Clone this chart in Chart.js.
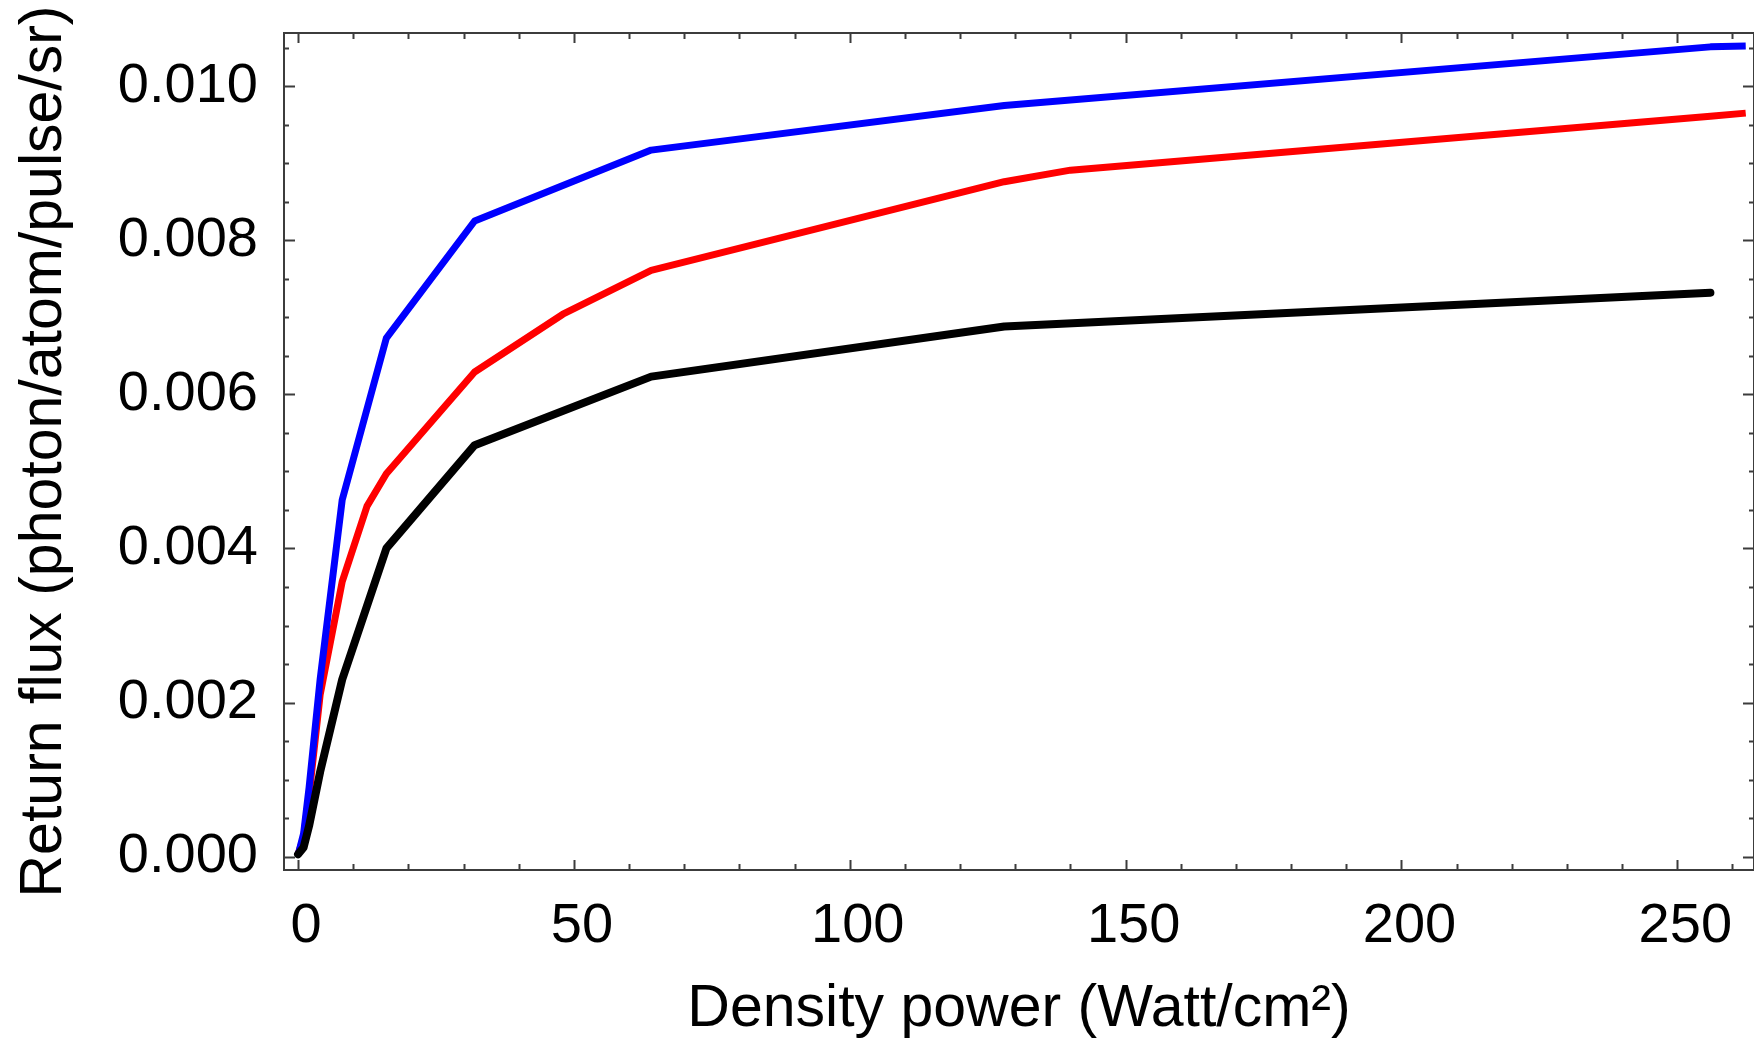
<!DOCTYPE html>
<html>
<head>
<meta charset="utf-8">
<script src="https://cdn.jsdelivr.net/npm/chart.js@4.4.1/dist/chart.umd.min.js"></script>
<style>
  html, body { margin: 0; padding: 0; background: #fff; }
  #wrap { width: 1754px; height: 1042px; }
</style>
</head>
<body>
<div id="wrap"><canvas id="chart" width="1754" height="1042"></canvas></div>
<script>
// values
const blueX  = [0, 1, 2, 4, 8, 16, 32, 64, 128, 256, 262.4];
const blueY  = [0.00002, 0.0003, 0.0009, 0.0023, 0.00463, 0.00673, 0.00825, 0.00917, 0.00975, 0.01051, 0.01052];

const redX   = [0, 1, 2, 4, 8, 12.5, 16, 32, 48, 64, 128, 140, 256, 262.4];
const redY   = [0.00003, 0.00025, 0.0008, 0.0021, 0.00357, 0.00455, 0.00497, 0.00629, 0.00704, 0.00761, 0.00876, 0.00891, 0.00961, 0.00965];

const blackX = [0, 1, 2, 4, 8, 16, 32, 64, 128, 256];
const blackY = [0.00003, 0.00012, 0.0004, 0.0011, 0.0023, 0.0040, 0.00534, 0.00623, 0.00688, 0.00732];

const xTicks = [0, 50, 100, 150, 200, 250];
const yTicks = [0, 0.002, 0.004, 0.006, 0.008, 0.010];
const xMinorStep = 10;
const yMinorStep = 0.0005;

const FONT = '"Liberation Sans", Arial, Helvetica, sans-serif';

const toPoints = (xs, ys) => xs.map((x, i) => ({ x: x, y: ys[i] }));

// Mathematica-like frame with inward ticks on all four sides
const frameTicks = {
  id: 'frameTicks',
  afterDatasetsDraw(chart) {
    const { ctx, chartArea: a, scales: { x, y } } = chart;
    ctx.save();
    ctx.strokeStyle = '#3c3c3c';
    ctx.lineWidth = 2;
    ctx.strokeRect(a.left, a.top, a.right - a.left, a.bottom - a.top);

    ctx.beginPath();
    for (let k = 0; k * xMinorStep <= x.max; k++) {
      const v = k * xMinorStep;
      const px = Math.round(x.getPixelForValue(v)) + 0.5;
      const len = (v % 50 === 0) ? 10 : 6;
      ctx.moveTo(px, a.bottom); ctx.lineTo(px, a.bottom - len);
      ctx.moveTo(px, a.top); ctx.lineTo(px, a.top + len);
    }
    for (let k = 0; k * yMinorStep <= y.max; k++) {
      const v = k * yMinorStep;
      const py = Math.round(y.getPixelForValue(v)) + 0.5;
      const len = (k % 4 === 0) ? 11 : 5;
      ctx.moveTo(a.left, py); ctx.lineTo(a.left + len, py);
      ctx.moveTo(a.right, py); ctx.lineTo(a.right - len, py);
    }
    ctx.stroke();
    ctx.restore();
  }
};

const ctx = document.getElementById('chart').getContext('2d');

new Chart(ctx, {
  type: 'line',
  data: {
    datasets: [
      {
        label: 'black',
        data: toPoints(blackX, blackY),
        borderColor: '#000000',
        borderWidth: 8,
        borderCapStyle: 'round'
      },
      {
        label: 'blue',
        data: toPoints(blueX, blueY),
        borderColor: '#0000ff',
        borderWidth: 7
      },
      {
        label: 'red',
        data: toPoints(redX, redY),
        borderColor: '#ff0000',
        borderWidth: 7
      }
    ]
  },
  options: {
    responsive: false,
    animation: false,
    layout: { padding: { top: 33, right: 0, bottom: 0, left: 0 } },
    elements: {
      point: { radius: 0 },
      line: { tension: 0, borderJoinStyle: 'round', fill: false }
    },
    plugins: {
      legend: { display: false },
      tooltip: { enabled: false }
    },
    scales: {
      x: {
        type: 'linear',
        min: -2.55,
        max: 263.9,
        afterBuildTicks: s => { s.ticks = xTicks.map(v => ({ value: v })); },
        afterFit: s => { s.height = 172; },
        grid: { display: false },
        border: { display: false },
        ticks: {
          color: '#000',
          font: { family: FONT, size: 56, lineHeight: 1 },
          padding: 21,
          labelOffset: 8,
          maxRotation: 0,
          autoSkip: false
        },
        title: {
          display: true,
          text: 'Density power (Watt/cm²)',
          color: '#000',
          font: { family: FONT, size: 59, lineHeight: 1 },
          padding: { top: 0, bottom: 3 }
        }
      },
      y: {
        type: 'linear',
        min: -0.000173,
        max: 0.01069,
        afterBuildTicks: s => { s.ticks = yTicks.map(v => ({ value: v })); },
        afterFit: s => { s.width = 284; s.paddingTop = 0; s.paddingBottom = 0; },
        grid: { display: false },
        border: { display: false },
        ticks: {
          color: '#000',
          font: { family: FONT, size: 56, lineHeight: 1 },
          padding: 18,
          autoSkip: false,
          callback: v => v.toFixed(3)
        },
        title: {
          display: true,
          text: 'Return flux (photon/atom/pulse/sr)',
          color: '#000',
          font: { family: FONT, size: 59, lineHeight: 1 },
          padding: { top: 15, bottom: 0 }
        }
      }
    }
  },
  plugins: [frameTicks]
});
</script>
</body>
</html>
